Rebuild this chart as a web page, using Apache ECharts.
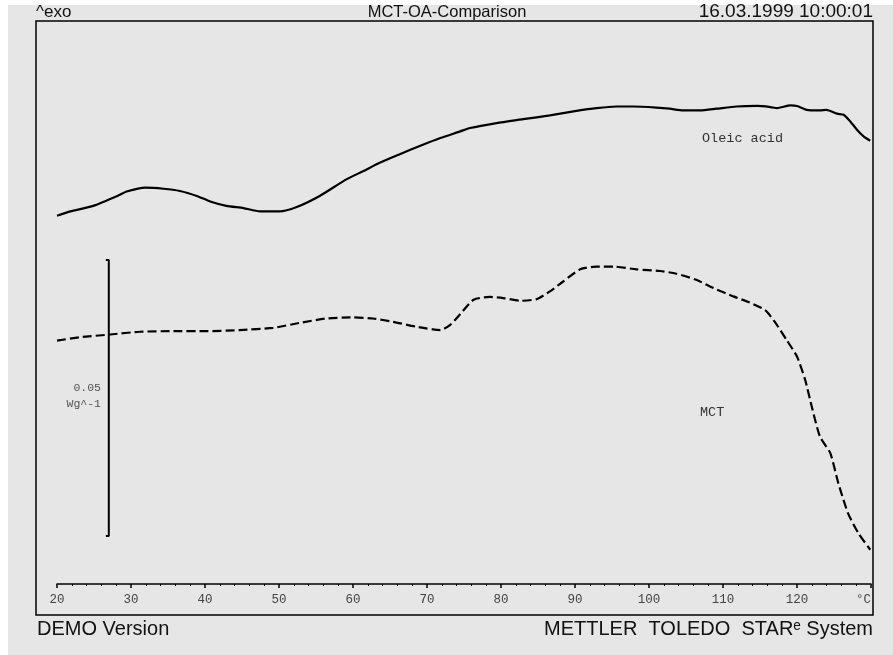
<!DOCTYPE html>
<html>
<head>
<meta charset="utf-8">
<script src="https://cdn.jsdelivr.net/npm/echarts@6/dist/echarts.min.js"></script>
<style>html,body{margin:0;padding:0;background:#fff;}#c{width:893px;height:655px;}</style>
</head>
<body>
<div id="c"></div>
<script>
// Temperature (°C) and heat flow (mW/g, arbitrary offset)
const oleicT = [20.0,21.8,24.9,28.5,29.4,31.9,34.4,36.6,38.9,40.7,42.9,45.2,47.4,50.1,52.4,55.5,59.1,61.4,63.6,66.4,69.1,71.8,74.5,75.8,79.4,83.0,86.6,90.2,92.9,95.6,97.9,101.0,102.8,104.6,106.9,109.1,111.8,114.6,116.4,117.3,119.1,120.0,121.3,123.1,124.0,125.4,126.3,127.2,128.1,129.0,129.9];
const oleicV = [66.7,67.5,68.5,70.5,71.1,71.8,71.6,71.2,70.3,69.3,68.5,68.1,67.5,67.5,68.3,70.3,73.3,74.8,76.3,77.9,79.4,80.8,82.0,82.6,83.5,84.2,84.9,85.7,86.2,86.5,86.5,86.3,86.1,85.8,85.8,86.1,86.5,86.6,86.4,86.2,86.7,86.6,85.9,85.8,85.9,85.2,85.0,83.8,82.3,81.1,80.3];
const mctT = [20.0,23.1,27.2,31.2,35.7,40.2,44.7,49.2,52.8,56.4,60.0,62.7,65.4,68.6,71.8,73.1,74.5,76.3,78.5,80.3,82.6,84.8,86.6,88.4,90.7,92.9,95.2,98.3,101.5,103.7,106.4,108.7,111.4,113.6,115.7,117.0,118.6,120.0,121.1,122.0,123.1,124.5,125.6,126.9,128.3,129.9];
const mctV = [44.1,44.7,45.2,45.7,45.8,45.8,46.0,46.4,47.3,48.1,48.3,48.1,47.5,46.6,46.0,46.9,48.9,51.5,52.0,51.8,51.3,51.6,53.0,54.8,57.0,57.5,57.5,57.0,56.7,56.2,55.1,53.6,52.1,51.0,49.6,47.5,44.2,41.2,37.0,32.1,26.7,23.7,18.2,12.8,9.2,6.2];
// Scale bar: 0.05 W/g = 50 mW/g
const scaleBarT = [26.6, 27.0, 27.0, 26.6];
const scaleBarV = [58.7, 58.7, 8.7, 8.7];
const scaleText = ['0.05', 'Wg^-1'];
const seriesNames = ['Oleic acid', 'MCT'];
const xMin = 20, xMax = 130, xStep = 10;
const unitLabel = '°C';
const header = ['^exo', 'MCT-OA-Comparison', '16.03.1999 10:00:01'];
const footer = ['DEMO Version', 'METTLER  TOLEDO  STARᵉ System'];

const zip = (a, b) => a.map((v, i) => [v, b[i]]);
const chart = echarts.init(document.getElementById('c'), null, {renderer: 'canvas'});
const sans = '"Liberation Sans", Arial, "DejaVu Sans", sans-serif';
const mono = '"Liberation Mono", "DejaVu Sans Mono", monospace';

chart.setOption({
  animation: false,
  backgroundColor: '#ffffff',
  grid: {left: 57, right: 22, top: 20, bottom: 71, containLabel: false},
  xAxis: {
    type: 'value', min: xMin, max: xMax, interval: xStep,
    axisLine: {onZero: false, lineStyle: {color: '#000', width: 1.5}},
    axisTick: {show: true, length: 4, lineStyle: {color: '#000', width: 1.5}},
    minorTick: {show: true, splitNumber: 5, length: 2, lineStyle: {color: '#000', width: 1}},
    splitLine: {show: false},
    axisLabel: {
      color: '#444', fontFamily: mono, fontSize: 12.5, margin: 9,
      alignMaxLabel: 'right',
      formatter: v => (v === xMax ? unitLabel : String(v))
    }
  },
  yAxis: {type: 'value', min: 0, max: 102.17, show: false, splitLine: {show: false}},
  series: [
    {name: seriesNames[0], type: 'line', data: zip(oleicT, oleicV), showSymbol: false, smooth: 0.2,
     lineStyle: {color: '#000', width: 2.2}},
    {name: seriesNames[1], type: 'line', data: zip(mctT, mctV), showSymbol: false, smooth: 0.2,
     lineStyle: {color: '#000', width: 2.2, type: [9, 4]}},
    {name: 'scale', type: 'line', data: zip(scaleBarT, scaleBarV), showSymbol: false,
     lineStyle: {color: '#000', width: 2}}
  ],
  graphic: [
    {type: 'rect', z: -10, silent: true, shape: {x: 8, y: 5, width: 885, height: 650}, style: {fill: '#e6e6e6'}},
    {type: 'rect', z: 10, silent: true, shape: {x: 36, y: 21, width: 837, height: 594}, style: {fill: 'none', stroke: '#000', lineWidth: 1.5}},
    {type: 'text', z: 10, x: 36, y: 12, style: {text: header[0], font: '17px ' + sans, fill: '#111', textAlign: 'left', textVerticalAlign: 'middle'}},
    {type: 'text', z: 10, x: 447, y: 12, style: {text: header[1], font: '16.5px ' + sans, fill: '#111', textAlign: 'center', textVerticalAlign: 'middle'}},
    {type: 'text', z: 10, x: 873, y: 12, style: {text: header[2], font: '19px ' + sans, fill: '#111', textAlign: 'right', textVerticalAlign: 'middle'}},
    {type: 'text', z: 10, x: 37, y: 629, style: {text: footer[0], font: '20px ' + sans, fill: '#111', textAlign: 'left', textVerticalAlign: 'middle'}},
    {type: 'text', z: 10, x: 873, y: 629, style: {text: footer[1], font: '20px ' + sans, fill: '#111', textAlign: 'right', textVerticalAlign: 'middle'}},
    {type: 'text', z: 10, x: 702, y: 138, style: {text: seriesNames[0], font: '13.5px ' + mono, fill: '#333', textAlign: 'left', textVerticalAlign: 'middle'}},
    {type: 'text', z: 10, x: 700, y: 412, style: {text: seriesNames[1], font: '13.5px ' + mono, fill: '#333', textAlign: 'left', textVerticalAlign: 'middle'}},
    {type: 'text', z: 10, x: 101, y: 388, style: {text: scaleText[0], font: '11.5px ' + mono, fill: '#555', textAlign: 'right', textVerticalAlign: 'middle'}},
    {type: 'text', z: 10, x: 101, y: 404, style: {text: scaleText[1], font: '11.5px ' + mono, fill: '#555', textAlign: 'right', textVerticalAlign: 'middle'}}
  ]
});
</script>
</body>
</html>
